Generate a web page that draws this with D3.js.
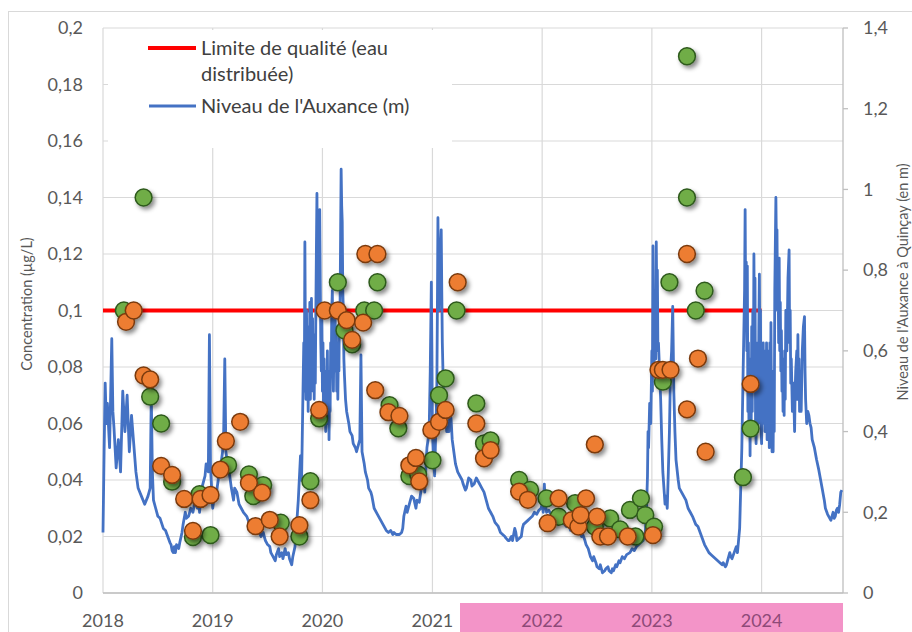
<!DOCTYPE html>
<html>
<head>
<meta charset="utf-8">
<style type="text/css">
body { margin: 0; background: #fff; }
svg { display: block; font-family: Lato, "Open Sans", sans-serif; }
.tick-label { fill: #595959; font-size: 18px; }
.grid { stroke: #d9d9d9; stroke-width: 1.2; }
.niveau { fill: none; stroke: #4472c4; stroke-width: 2.8; stroke-linejoin: round; }
.limite { stroke: #ff0000; stroke-width: 4; }
</style>
<script src="https://cdn.jsdelivr.net/npm/d3@7"></script>
</head>
<body>
<script type="text/javascript">
var width = 912;
var height = 632;

var leftTicks = [0, 0.02, 0.04, 0.06, 0.08, 0.1, 0.12, 0.14, 0.16, 0.18, 0.2];
var rightTicks = [0, 0.2, 0.4, 0.6, 0.8, 1, 1.2, 1.4];
var years = [2018, 2019, 2020, 2021, 2022, 2023, 2024];
var pinkYears = [2022, 2023, 2024];

var limite = [[2018, 0.1], [2024, 0.1]];

// [année décimale, µg/L]
var vert = [
  [2018.19, 0.100], [2018.37, 0.140], [2018.43, 0.0695], [2018.53, 0.060], [2018.63, 0.0394],
  [2018.82, 0.0198], [2018.88, 0.035], [2018.98, 0.0205], [2019.14, 0.0453], [2019.33, 0.042],
  [2019.37, 0.0343], [2019.46, 0.0382], [2019.62, 0.0249], [2019.79, 0.020], [2019.89, 0.0396],
  [2019.97, 0.0618], [2020.14, 0.110], [2020.20, 0.093], [2020.27, 0.088], [2020.38, 0.100],
  [2020.47, 0.100], [2020.50, 0.110], [2020.61, 0.0665], [2020.69, 0.0583], [2020.79, 0.0414],
  [2020.87, 0.042], [2021.00, 0.047], [2021.06, 0.070], [2021.12, 0.076], [2021.22, 0.100],
  [2021.40, 0.0671], [2021.47, 0.053], [2021.53, 0.054], [2021.79, 0.040], [2021.89, 0.0365],
  [2022.04, 0.0335], [2022.15, 0.027], [2022.30, 0.0318], [2022.48, 0.0235], [2022.62, 0.0264],
  [2022.71, 0.0225], [2022.80, 0.0294], [2022.85, 0.020], [2022.90, 0.0335], [2022.94, 0.0276],
  [2023.02, 0.0235], [2023.10, 0.0748], [2023.16, 0.110], [2023.32, 0.190], [2023.32, 0.140],
  [2023.40, 0.100], [2023.48, 0.107], [2023.83, 0.041], [2023.90, 0.0582]
];

var orange = [
  [2018.21, 0.096], [2018.28, 0.100], [2018.37, 0.077], [2018.43, 0.0756], [2018.53, 0.045],
  [2018.63, 0.0418], [2018.74, 0.0333], [2018.82, 0.022], [2018.89, 0.0333], [2018.98, 0.0347],
  [2019.07, 0.0437], [2019.12, 0.0538], [2019.25, 0.0606], [2019.33, 0.039], [2019.39, 0.0237],
  [2019.45, 0.0355], [2019.52, 0.0259], [2019.61, 0.020], [2019.79, 0.024], [2019.89, 0.0329],
  [2019.97, 0.0648], [2020.02, 0.100], [2020.14, 0.100], [2020.22, 0.0966], [2020.27, 0.0896],
  [2020.37, 0.0957], [2020.39, 0.120], [2020.50, 0.120], [2020.48, 0.0718], [2020.60, 0.064],
  [2020.70, 0.0627], [2020.79, 0.0452], [2020.85, 0.0478], [2020.88, 0.0395], [2020.99, 0.0577],
  [2021.06, 0.0606], [2021.12, 0.0648], [2021.23, 0.110], [2021.40, 0.060], [2021.47, 0.0477],
  [2021.53, 0.0506], [2021.79, 0.0359], [2021.87, 0.033], [2022.05, 0.0247], [2022.15, 0.0335],
  [2022.27, 0.0258], [2022.33, 0.0235], [2022.35, 0.0276], [2022.40, 0.0335], [2022.48, 0.0526],
  [2022.50, 0.027], [2022.53, 0.020], [2022.60, 0.020], [2022.78, 0.020], [2023.01, 0.0205],
  [2023.06, 0.079], [2023.10, 0.079], [2023.17, 0.079], [2023.32, 0.120], [2023.32, 0.065],
  [2023.42, 0.083], [2023.49, 0.050], [2023.90, 0.074]
];

// [année décimale, m]
var niveau = [
  [2018.00, 0.15], [2018.01, 0.35], [2018.02, 0.52], [2018.03, 0.42], [2018.04, 0.47], [2018.06, 0.36],
  [2018.08, 0.63], [2018.09, 0.45], [2018.10, 0.41], [2018.12, 0.31], [2018.14, 0.38], [2018.16, 0.30],
  [2018.18, 0.50], [2018.20, 0.40], [2018.22, 0.49], [2018.24, 0.35], [2018.26, 0.44], [2018.28, 0.37],
  [2018.30, 0.30], [2018.32, 0.26], [2018.35, 0.24], [2018.38, 0.22], [2018.41, 0.24], [2018.43, 0.26],
  [2018.44, 0.49], [2018.45, 0.30], [2018.46, 0.23], [2018.48, 0.21], [2018.50, 0.19], [2018.52, 0.185],
  [2018.55, 0.16], [2018.57, 0.155], [2018.59, 0.14], [2018.61, 0.125], [2018.62, 0.12], [2018.63, 0.105],
  [2018.64, 0.10], [2018.65, 0.115], [2018.66, 0.10], [2018.67, 0.12], [2018.69, 0.11], [2018.70, 0.125],
  [2018.72, 0.15], [2018.73, 0.17], [2018.75, 0.20], [2018.76, 0.185], [2018.78, 0.19], [2018.80, 0.21],
  [2018.82, 0.20], [2018.84, 0.23], [2018.86, 0.21], [2018.87, 0.24], [2018.88, 0.20], [2018.90, 0.26],
  [2018.91, 0.27], [2018.93, 0.29], [2018.94, 0.32], [2018.96, 0.30], [2018.97, 0.64], [2018.98, 0.31],
  [2019.00, 0.21], [2019.01, 0.23], [2019.03, 0.24], [2019.05, 0.28], [2019.06, 0.31], [2019.08, 0.33],
  [2019.09, 0.35], [2019.10, 0.40], [2019.11, 0.58], [2019.12, 0.35], [2019.13, 0.33], [2019.15, 0.30],
  [2019.17, 0.26], [2019.19, 0.23], [2019.20, 0.26], [2019.22, 0.25], [2019.24, 0.22], [2019.26, 0.21],
  [2019.28, 0.20], [2019.31, 0.19], [2019.33, 0.175], [2019.35, 0.18], [2019.37, 0.165], [2019.40, 0.16],
  [2019.42, 0.155], [2019.44, 0.14], [2019.46, 0.15], [2019.48, 0.13], [2019.50, 0.12], [2019.52, 0.115],
  [2019.53, 0.10], [2019.55, 0.09], [2019.57, 0.08], [2019.58, 0.095], [2019.60, 0.11], [2019.61, 0.09],
  [2019.63, 0.10], [2019.64, 0.085], [2019.66, 0.11], [2019.67, 0.095], [2019.69, 0.10], [2019.70, 0.085],
  [2019.72, 0.07], [2019.73, 0.09], [2019.75, 0.115], [2019.76, 0.15], [2019.78, 0.23], [2019.80, 0.34],
  [2019.81, 0.28], [2019.82, 0.45], [2019.83, 0.62], [2019.835, 0.50], [2019.84, 0.87], [2019.845, 0.62],
  [2019.85, 0.48], [2019.855, 0.70], [2019.86, 0.52], [2019.865, 0.66], [2019.87, 0.45], [2019.875, 0.62],
  [2019.88, 0.50], [2019.885, 0.72], [2019.89, 0.48], [2019.895, 0.60], [2019.90, 0.73], [2019.905, 0.55],
  [2019.91, 0.68], [2019.915, 0.50], [2019.92, 0.64], [2019.925, 0.48], [2019.93, 0.62], [2019.935, 0.52],
  [2019.94, 0.70], [2019.945, 0.85], [2019.95, 0.99], [2019.955, 0.78], [2019.96, 0.70], [2019.965, 0.88],
  [2019.97, 0.80], [2019.975, 0.95], [2019.98, 0.78], [2019.985, 0.62], [2019.99, 0.55], [2019.995, 0.68],
  [2020.00, 0.50], [2020.005, 0.62], [2020.01, 0.45], [2020.015, 0.58], [2020.02, 0.42], [2020.025, 0.55],
  [2020.03, 0.40], [2020.035, 0.52], [2020.04, 0.45], [2020.045, 0.60], [2020.05, 0.42], [2020.055, 0.55],
  [2020.06, 0.38], [2020.065, 0.50], [2020.07, 0.45], [2020.075, 0.62], [2020.08, 0.55], [2020.085, 0.70],
  [2020.09, 0.75], [2020.095, 0.58], [2020.10, 0.50], [2020.105, 0.65], [2020.11, 0.55], [2020.115, 0.70],
  [2020.12, 0.58], [2020.125, 0.66], [2020.13, 0.50], [2020.135, 0.62], [2020.14, 0.48], [2020.145, 0.60],
  [2020.15, 0.55], [2020.155, 0.72], [2020.16, 0.70], [2020.165, 0.88], [2020.17, 1.05], [2020.175, 0.96],
  [2020.18, 0.92], [2020.185, 0.75], [2020.19, 0.70], [2020.195, 0.58], [2020.20, 0.54], [2020.21, 0.48],
  [2020.22, 0.45], [2020.24, 0.42], [2020.25, 0.40], [2020.27, 0.39], [2020.28, 0.37], [2020.30, 0.36],
  [2020.31, 0.35], [2020.33, 0.37], [2020.34, 0.38], [2020.35, 0.59], [2020.36, 0.35], [2020.38, 0.32],
  [2020.39, 0.30], [2020.41, 0.28], [2020.42, 0.26], [2020.44, 0.25], [2020.45, 0.24], [2020.47, 0.21],
  [2020.50, 0.195], [2020.52, 0.185], [2020.55, 0.17], [2020.57, 0.16], [2020.58, 0.155], [2020.60, 0.15],
  [2020.62, 0.155], [2020.64, 0.145], [2020.65, 0.15], [2020.67, 0.145], [2020.70, 0.145], [2020.72, 0.15],
  [2020.73, 0.16], [2020.74, 0.19], [2020.76, 0.215], [2020.77, 0.20], [2020.79, 0.22], [2020.81, 0.24],
  [2020.83, 0.235], [2020.85, 0.21], [2020.86, 0.23], [2020.88, 0.225], [2020.90, 0.26], [2020.92, 0.29],
  [2020.93, 0.25], [2020.95, 0.36], [2020.97, 0.40], [2020.98, 0.55], [2020.99, 0.77], [2020.995, 0.60],
  [2021.00, 0.40], [2021.01, 0.33], [2021.02, 0.29], [2021.03, 0.40], [2021.04, 0.50], [2021.045, 0.70],
  [2021.05, 0.93], [2021.055, 0.78], [2021.06, 0.70], [2021.065, 0.80], [2021.07, 0.75], [2021.075, 0.86],
  [2021.08, 0.90], [2021.085, 0.75], [2021.09, 0.62], [2021.10, 0.50], [2021.11, 0.47], [2021.12, 0.44],
  [2021.13, 0.40], [2021.15, 0.40], [2021.16, 0.45], [2021.17, 0.43], [2021.18, 0.38], [2021.19, 0.36],
  [2021.21, 0.32], [2021.23, 0.30], [2021.25, 0.29], [2021.27, 0.28], [2021.28, 0.27], [2021.30, 0.255],
  [2021.31, 0.26], [2021.33, 0.285], [2021.35, 0.28], [2021.36, 0.265], [2021.38, 0.27], [2021.40, 0.285],
  [2021.41, 0.28], [2021.43, 0.27], [2021.45, 0.26], [2021.47, 0.25], [2021.48, 0.24], [2021.50, 0.22],
  [2021.51, 0.21], [2021.53, 0.20], [2021.55, 0.19], [2021.57, 0.175], [2021.60, 0.165], [2021.62, 0.15],
  [2021.64, 0.145], [2021.66, 0.14], [2021.67, 0.136], [2021.69, 0.13], [2021.70, 0.13], [2021.72, 0.14],
  [2021.73, 0.13], [2021.75, 0.16], [2021.76, 0.15], [2021.77, 0.13], [2021.79, 0.135], [2021.81, 0.14],
  [2021.82, 0.16], [2021.83, 0.17], [2021.85, 0.175], [2021.87, 0.18], [2021.89, 0.185], [2021.91, 0.19],
  [2021.93, 0.20], [2021.95, 0.195], [2021.97, 0.205], [2021.99, 0.21], [2022.00, 0.22], [2022.01, 0.20],
  [2022.02, 0.27], [2022.03, 0.22], [2022.04, 0.20], [2022.06, 0.205], [2022.08, 0.195], [2022.10, 0.20],
  [2022.12, 0.19], [2022.15, 0.195], [2022.17, 0.18], [2022.19, 0.175], [2022.22, 0.165], [2022.24, 0.17],
  [2022.26, 0.155], [2022.28, 0.155], [2022.30, 0.16], [2022.32, 0.15], [2022.34, 0.15], [2022.36, 0.14],
  [2022.37, 0.145], [2022.39, 0.13], [2022.40, 0.12], [2022.42, 0.11], [2022.43, 0.10], [2022.44, 0.09],
  [2022.46, 0.08], [2022.47, 0.09], [2022.49, 0.075], [2022.50, 0.065], [2022.52, 0.06], [2022.53, 0.07],
  [2022.55, 0.05], [2022.57, 0.055], [2022.58, 0.06], [2022.60, 0.065], [2022.61, 0.055], [2022.63, 0.05],
  [2022.64, 0.06], [2022.65, 0.055], [2022.67, 0.07], [2022.68, 0.065], [2022.70, 0.08], [2022.71, 0.075],
  [2022.73, 0.09], [2022.75, 0.085], [2022.77, 0.095], [2022.80, 0.10], [2022.82, 0.11], [2022.84, 0.105],
  [2022.86, 0.115], [2022.88, 0.12], [2022.90, 0.125], [2022.92, 0.13], [2022.94, 0.15], [2022.95, 0.20],
  [2022.96, 0.29], [2022.965, 0.40], [2022.97, 0.36], [2022.98, 0.47], [2022.99, 0.42], [2023.00, 0.60],
  [2023.005, 0.50], [2023.01, 0.86], [2023.015, 0.62], [2023.02, 0.55], [2023.025, 0.66], [2023.03, 0.70],
  [2023.035, 0.58], [2023.04, 0.87], [2023.045, 0.72], [2023.05, 0.80], [2023.055, 0.60], [2023.06, 0.62],
  [2023.07, 0.55], [2023.08, 0.48], [2023.09, 0.38], [2023.10, 0.30], [2023.11, 0.26], [2023.12, 0.22],
  [2023.13, 0.24], [2023.14, 0.21], [2023.15, 0.30], [2023.16, 0.40], [2023.17, 0.55], [2023.18, 0.60],
  [2023.19, 0.71], [2023.20, 0.50], [2023.21, 0.40], [2023.22, 0.33], [2023.24, 0.28], [2023.25, 0.26],
  [2023.27, 0.25], [2023.29, 0.24], [2023.31, 0.23], [2023.33, 0.21], [2023.35, 0.20], [2023.37, 0.19],
  [2023.40, 0.17], [2023.42, 0.165], [2023.44, 0.15], [2023.46, 0.135], [2023.48, 0.12], [2023.50, 0.11],
  [2023.52, 0.10], [2023.54, 0.095], [2023.56, 0.09], [2023.58, 0.085], [2023.60, 0.08], [2023.62, 0.075],
  [2023.64, 0.07], [2023.65, 0.075], [2023.67, 0.065], [2023.68, 0.07], [2023.69, 0.08], [2023.71, 0.10],
  [2023.72, 0.09], [2023.73, 0.085], [2023.75, 0.10], [2023.77, 0.115], [2023.78, 0.10], [2023.80, 0.16],
  [2023.82, 0.36], [2023.83, 0.52], [2023.845, 0.75], [2023.85, 0.95], [2023.855, 0.70], [2023.86, 0.82],
  [2023.865, 0.60], [2023.87, 0.81], [2023.875, 0.45], [2023.88, 0.62], [2023.885, 0.40], [2023.89, 0.55],
  [2023.895, 0.34], [2023.90, 0.58], [2023.905, 0.40], [2023.91, 0.66], [2023.915, 0.45], [2023.92, 0.70],
  [2023.925, 0.50], [2023.93, 0.84], [2023.935, 0.60], [2023.94, 0.78], [2023.945, 0.42], [2023.95, 0.37],
  [2023.955, 0.55], [2023.96, 0.45], [2023.965, 0.62], [2023.97, 0.42], [2023.975, 0.66], [2023.98, 0.79],
  [2023.985, 0.55], [2023.99, 0.70], [2023.995, 0.42], [2024.00, 0.37], [2024.005, 0.55], [2024.01, 0.42],
  [2024.015, 0.62], [2024.02, 0.45], [2024.025, 0.60], [2024.03, 0.40], [2024.035, 0.58], [2024.04, 0.44],
  [2024.045, 0.62], [2024.05, 0.38], [2024.055, 0.58], [2024.06, 0.40], [2024.065, 0.60], [2024.07, 0.36],
  [2024.075, 0.62], [2024.08, 0.38], [2024.085, 0.67], [2024.09, 0.45], [2024.095, 0.35], [2024.10, 0.50],
  [2024.105, 0.35], [2024.11, 0.55], [2024.115, 0.40], [2024.12, 0.75], [2024.13, 0.98], [2024.135, 0.85],
  [2024.14, 0.90], [2024.145, 0.70], [2024.15, 0.80], [2024.155, 0.62], [2024.16, 0.83], [2024.165, 0.60],
  [2024.17, 0.72], [2024.175, 0.55], [2024.18, 0.65], [2024.185, 0.50], [2024.19, 0.58], [2024.195, 0.45],
  [2024.20, 0.55], [2024.205, 0.44], [2024.21, 0.60], [2024.215, 0.48], [2024.22, 0.70], [2024.23, 0.60],
  [2024.24, 0.78], [2024.25, 0.85], [2024.255, 0.62], [2024.26, 0.70], [2024.265, 0.52], [2024.27, 0.58],
  [2024.28, 0.45], [2024.29, 0.52], [2024.30, 0.40], [2024.305, 0.50], [2024.31, 0.55], [2024.32, 0.60],
  [2024.325, 0.48], [2024.33, 0.64], [2024.335, 0.50], [2024.34, 0.58], [2024.345, 0.45], [2024.35, 0.55],
  [2024.36, 0.45], [2024.37, 0.60], [2024.38, 0.66], [2024.39, 0.685], [2024.395, 0.55], [2024.40, 0.48],
  [2024.41, 0.42], [2024.42, 0.45], [2024.43, 0.44], [2024.44, 0.42], [2024.45, 0.41], [2024.46, 0.38],
  [2024.48, 0.36], [2024.50, 0.33], [2024.52, 0.305], [2024.53, 0.29], [2024.55, 0.26], [2024.57, 0.23],
  [2024.58, 0.21], [2024.60, 0.195], [2024.61, 0.19], [2024.63, 0.18], [2024.64, 0.19], [2024.65, 0.20],
  [2024.66, 0.185], [2024.67, 0.19], [2024.68, 0.205], [2024.69, 0.21], [2024.70, 0.20], [2024.71, 0.22],
  [2024.72, 0.25], [2024.73, 0.255]
];

function toDate(y) {
  var yr = Math.floor(y);
  var a = new Date(yr, 0, 1), b = new Date(yr + 1, 0, 1);
  return new Date(+a + (y - yr) * (b - a));
}
function fr(d) { return String(+d.toFixed(2)).replace(".", ","); }

var plotLeft = 103, plotRight = 843, plotTop = 28, plotBottom = 593;

var x = d3.scaleTime().domain([toDate(2018), toDate(2024.74)]).range([plotLeft, plotRight]);
var yL = d3.scaleLinear().domain([0, 0.2]).range([plotBottom, plotTop]);
var yR = d3.scaleLinear().domain([0, 1.4]).range([plotBottom, plotTop]);

var svg = d3.select("body").append("svg").attr("width", width).attr("height", height);

var defs = svg.append("defs");
var f = defs.append("filter").attr("id", "ombre").attr("x", "-50%").attr("y", "-50%").attr("width", "200%").attr("height", "200%");
f.append("feDropShadow").attr("dx", 2.5).attr("dy", 3).attr("stdDeviation", 2).attr("flood-color", "#000").attr("flood-opacity", 0.45);

svg.append("rect").attr("x", 8.5).attr("y", 11.5).attr("width", 1000).attr("height", 700)
  .attr("fill", "#fff").attr("stroke", "#d9d9d9");

// gridlines
svg.selectAll(".hgrid").data(leftTicks).enter().append("line")
  .attr("class", "grid").attr("x1", plotLeft).attr("x2", plotRight)
  .attr("y1", function(d) { return yL(d); }).attr("y2", function(d) { return yL(d); });
svg.selectAll(".vgrid").data(years).enter().append("line")
  .attr("class", "grid")
  .attr("x1", function(d) { return x(toDate(d)); }).attr("x2", function(d) { return x(toDate(d)); })
  .attr("y1", plotTop).attr("y2", plotBottom);
svg.append("line").attr("x1", plotLeft).attr("x2", plotRight).attr("y1", plotBottom).attr("y2", plotBottom)
  .attr("stroke", "#bfbfbf").attr("stroke-width", 1.3);
svg.append("line").attr("x1", plotRight).attr("x2", plotRight).attr("y1", plotTop).attr("y2", plotBottom)
  .attr("stroke", "#bfbfbf").attr("stroke-width", 1.3);
svg.selectAll(".rtick").data(rightTicks).enter().append("line")
  .attr("x1", plotRight).attr("x2", plotRight + 5)
  .attr("y1", function(d) { return yR(d); }).attr("y2", function(d) { return yR(d); })
  .attr("stroke", "#bfbfbf").attr("stroke-width", 1.3);

// pink band under the last years
svg.append("rect").attr("x", 460).attr("y", 603).attr("width", plotRight - 460).attr("height", 29).attr("fill", "#f394c8");

// axis labels
svg.selectAll(".ltl").data(leftTicks).enter().append("text")
  .attr("class", "tick-label").attr("x", 83).attr("y", function(d) { return yL(d); })
  .attr("dy", "0.35em").attr("text-anchor", "end").text(fr);
svg.selectAll(".rtl").data(rightTicks).enter().append("text")
  .attr("class", "tick-label").attr("x", 863).attr("y", function(d) { return yR(d); })
  .attr("dy", "0.35em").attr("text-anchor", "start").text(fr);
svg.selectAll(".xtl").data(years).enter().append("text")
  .attr("class", "tick-label").attr("x", function(d) { return x(toDate(d)); }).attr("y", 621)
  .attr("dy", "0.35em").attr("text-anchor", "middle")
  .style("fill", function(d) { return pinkYears.indexOf(d) >= 0 ? "#8e4a78" : "#595959"; })
  .text(function(d) { return d; });

svg.append("text").attr("transform", "translate(27,304) rotate(-90)")
  .attr("text-anchor", "middle").attr("dy", "0.35em")
  .style("fill", "#595959").style("font-size", "14.5px").text("Concentration (µg/L)");
svg.append("text").attr("transform", "translate(903,282) rotate(-90)")
  .attr("text-anchor", "middle").attr("dy", "0.35em")
  .style("fill", "#595959").style("font-size", "14.5px").text("Niveau de l'Auxance à Quinçay (en m)");

// legend box hides the gridlines behind it
svg.append("rect").attr("x", 108).attr("y", 30).attr("width", 344).attr("height", 118).attr("fill", "#fff");

// limite de qualité
svg.append("path").datum(limite).attr("class", "limite")
  .attr("d", d3.line().x(function(d) { return x(toDate(d[0])); }).y(function(d) { return yL(d[1]); }));

// niveau de l'Auxance
svg.append("path").datum(niveau).attr("class", "niveau")
  .attr("d", d3.line().x(function(d) { return x(toDate(d[0])); }).y(function(d) { return yR(d[1]); }));

// points
function points(data, fill, stroke) {
  svg.append("g").attr("filter", "url(#ombre)").selectAll("circle").data(data).enter().append("circle")
    .attr("cx", function(d) { return x(toDate(d[0])); })
    .attr("cy", function(d) { return yL(d[1]); })
    .attr("r", 8.4).attr("fill", fill).attr("stroke", stroke).attr("stroke-width", 1.5);
}
points(vert, "#70ad47", "#2e5a1c");
points(orange, "#ed7d31", "#7a3a0e");

// legend
var lg = svg.append("g").style("font-size", "20px").style("fill", "#404040");
lg.append("line").attr("x1", 148).attr("x2", 196).attr("y1", 48).attr("y2", 48).attr("stroke", "#ff0000").attr("stroke-width", 4);
lg.append("text").attr("x", 201).attr("y", 48).attr("dy", "0.35em").text("Limite de qualité (eau");
lg.append("text").attr("x", 201).attr("y", 74).attr("dy", "0.35em").text("distribuée)");
lg.append("line").attr("x1", 149).attr("x2", 196).attr("y1", 106).attr("y2", 106).attr("stroke", "#4472c4").attr("stroke-width", 3);
lg.append("text").attr("x", 201).attr("y", 106).attr("dy", "0.35em").text("Niveau de l'Auxance (m)");
</script>
</body>
</html>
